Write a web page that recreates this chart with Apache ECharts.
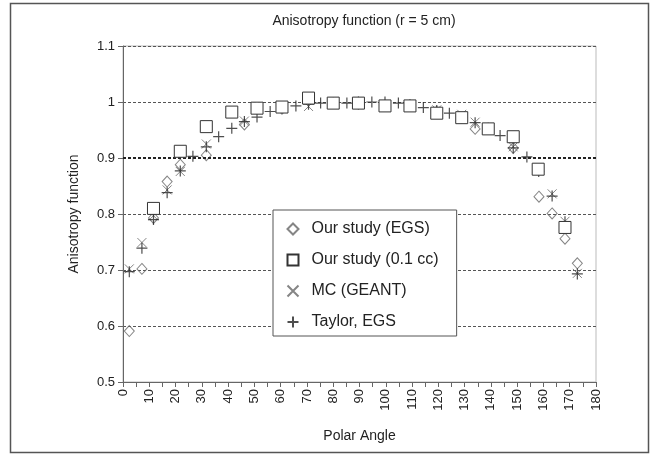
<!DOCTYPE html>
<html>
<head>
<meta charset="utf-8">
<script src="https://cdn.jsdelivr.net/npm/echarts@6/dist/echarts.min.js"></script>
<style>
  html, body { margin: 0; padding: 0; background: #fff; }
  #main { width: 659px; height: 455px; }
</style>
</head>
<body>
<div id="main"></div>
<script>
// values (angle in degrees, anisotropy function)
var egsAngle = [2.4, 7.2, 11.6, 16.8, 21.8, 31.7, 46.2, 60.5, 89.6, 119.4, 134.0, 148.5, 158.3, 163.3, 168.2, 172.9];
var egsValue = [0.591, 0.702, 0.793, 0.858, 0.888, 0.905, 0.960, 0.988, 0.997, 0.982, 0.952, 0.918, 0.831, 0.801, 0.756, 0.712];

var ccAngle = [11.6, 21.8, 31.7, 41.4, 51.0, 60.5, 70.6, 80.0, 89.6, 99.7, 109.2, 119.4, 128.9, 139.0, 148.5, 158.0, 168.2];
var ccValue = [0.810, 0.912, 0.956, 0.982, 0.989, 0.991, 1.007, 0.998, 0.998, 0.993, 0.993, 0.980, 0.972, 0.952, 0.938, 0.880, 0.776];

var mcAngle = [2.4, 7.2, 11.6, 16.8, 21.8, 31.7, 46.2, 70.6, 119.4, 128.9, 134.0, 148.5, 163.3, 168.2, 172.9];
var mcValue = [0.702, 0.749, 0.797, 0.843, 0.876, 0.925, 0.966, 0.992, 0.986, 0.978, 0.964, 0.920, 0.836, 0.787, 0.694];

var taylorAngle = [2.4, 7.2, 11.6, 16.8, 21.8, 26.6, 31.7, 36.4, 41.4, 46.2, 51.0, 56.0, 60.5, 65.8, 70.6, 75.2, 80.0, 85.2,
  89.6, 94.7, 99.7, 104.8, 109.2, 114.3, 119.4, 124.2, 128.9, 134.0, 139.0, 143.5, 148.5, 153.7, 158.2, 163.3, 168.2, 172.9];
var taylorValue = [0.697, 0.739, 0.790, 0.838, 0.877, 0.903, 0.920, 0.938, 0.953, 0.965, 0.973, 0.983, 0.990, 0.993, 0.996, 0.998, 0.999, 0.998,
  1.000, 1.000, 1.000, 0.998, 0.995, 0.990, 0.985, 0.980, 0.972, 0.963, 0.953, 0.940, 0.918, 0.902, 0.876, 0.832, 0.786, 0.693];

var seriesNames = ['Our study (EGS)', 'Our study (0.1 cc)', 'MC (GEANT)', 'Taylor, EGS'];

function pairs(xs, ys) {
  return xs.map(function (x, i) { return [x, ys[i]]; });
}

var font = '"Liberation Sans", Arial, sans-serif';
var myChart = echarts.init(document.getElementById('main'));

var option = {
  animation: false,
  backgroundColor: '#fff',
  title: {
    text: 'Anisotropy function (r = 5 cm)',
    left: 359,
    textAlign: 'center',
    top: 9,
    textStyle: { fontFamily: font, fontSize: 14, fontWeight: 'normal', color: '#222' }
  },
  grid: {
    left: 123, right: 63, top: 46, bottom: 73,
    show: true, borderColor: '#bbb', borderWidth: 1, backgroundColor: '#fff'
  },
  legend: {
    data: seriesNames,
    orient: 'vertical',
    left: 273,
    top: 210,
    zlevel: 2,
    padding: [11, 18, 6, 12],
    itemGap: 15,
    itemWidth: 11,
    itemHeight: 11,
    borderColor: '#555',
    borderWidth: 1,
    backgroundColor: '#fff',
    textStyle: { fontFamily: font, fontSize: 16, color: '#222', padding: [0, 0, 0, 8] }
  },
  xAxis: {
    type: 'value',
    min: 0, max: 180, interval: 5,
    name: 'Polar Angle',
    nameLocation: 'middle',
    nameGap: 47,
    nameTextStyle: { fontFamily: font, fontSize: 14, color: '#222' },
    axisLine: { lineStyle: { color: '#666', width: 1 } },
    axisTick: { length: 5, lineStyle: { color: '#666' } },
    axisLabel: {
      rotate: 90, margin: 7,
      fontFamily: font, fontSize: 13, color: '#222',
      formatter: function (v) { return v % 10 === 0 ? String(v) : ''; }
    },
    splitLine: { show: false }
  },
  yAxis: {
    type: 'value',
    min: 0.5, max: 1.1, interval: 0.1,
    name: 'Anisotropy function',
    nameLocation: 'middle',
    nameGap: 42,
    nameTextStyle: { fontFamily: font, fontSize: 14, color: '#222' },
    axisLine: { show: true, lineStyle: { color: '#666', width: 1 } },
    axisTick: { show: true, length: 5, lineStyle: { color: '#666' } },
    axisLabel: {
      margin: 8, fontFamily: font, fontSize: 13, color: '#222',
      formatter: function (v) { return String(Math.round(v * 10) / 10); }
    },
    splitLine: { show: true, lineStyle: { color: '#555', type: [3, 2], width: 1 } }
  },
  series: [
    {
      name: seriesNames[0], type: 'scatter',
      symbol: 'diamond', symbolSize: [10, 11],
      itemStyle: { color: 'none', borderColor: '#666', borderWidth: 1 },
      data: pairs(egsAngle, egsValue),
      markLine: {
        silent: true, symbol: 'none', label: { show: false },
        lineStyle: { color: '#222', type: [3, 2], width: 2 },
        data: [{ yAxis: 0.9 }]
      }
    },
    {
      name: seriesNames[2], type: 'scatter',
      symbol: 'path://M0,0L10,10M10,0L0,10', symbolSize: 9,
      itemStyle: { color: 'none', borderColor: '#666', borderWidth: 1 },
      data: pairs(mcAngle, mcValue)
    },
    {
      name: seriesNames[3], type: 'scatter',
      symbol: 'path://M5,0L5,10M0,5L10,5', symbolSize: 11,
      itemStyle: { color: 'none', borderColor: '#222', borderWidth: 1.2 },
      data: pairs(taylorAngle, taylorValue)
    },
    {
      name: seriesNames[1], type: 'scatter', zlevel: 1,
      symbol: 'rect', symbolSize: 12,
      itemStyle: { color: '#fff', borderColor: '#333', borderWidth: 1, opacity: 1 },
      data: pairs(ccAngle, ccValue)
    }
  ],
  graphic: [
    {
      type: 'rect', silent: true, z: -1,
      shape: { x: 10.5, y: 3.5, width: 638, height: 449 },
      style: { fill: 'none', stroke: '#555', lineWidth: 1.5 }
    }
  ]
};

myChart.setOption(option);
</script>
</body>
</html>
